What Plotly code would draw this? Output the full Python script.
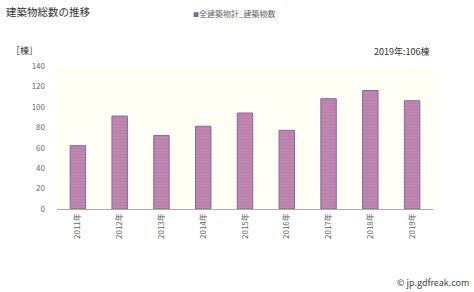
import plotly.graph_objects as go

years = ["2011年", "2012年", "2013年", "2014年", "2015年", "2016年", "2017年", "2018年", "2019年"]
counts = [62, 91, 72, 81, 94, 77, 108, 116, 106]
series_name = "全建築物計_建築物数"
title_text = "建築物総数の推移"
unit_text = "［棟］"
latest_text = "2019年:106棟"
credit_text = "© jp.gdfreak.com"

FONT = "Noto Sans CJK JP"
BAR_FILL = "#b97fae"
BAR_EDGE = "#7f6aa6"

fig = go.Figure()
fig.add_trace(go.Bar(
    x=years, y=counts, name=series_name, showlegend=False,
    marker=dict(
        color=BAR_FILL,
        line=dict(color=BAR_EDGE, width=1),
        pattern=dict(shape="-", fgcolor="#a178b4", bgcolor="#c486ab", size=3, solidity=0.4),
    ),
))

L, R, T, B = 57, 41, 66, 83
W, H = 474, 292
PW, PH = W - L - R, H - T - B


def px(x):
    return (x - L) / PW


def py(y):
    return (H - B - y) / PH


fig.update_layout(
    width=W, height=H,
    margin=dict(l=L, r=R, t=T, b=B),
    paper_bgcolor="white",
    plot_bgcolor="#fffef4",
    bargap=0.63,
    font=dict(family=FONT, color="#555555", size=8),
    xaxis=dict(
        showgrid=False, showline=True, linecolor="#aaaaaa", linewidth=1,
        ticks="", tickangle=-90, tickfont=dict(size=8, color="#666666"),
    ),
    yaxis=dict(
        range=[0, 140], dtick=20, showgrid=False, zeroline=False,
        showline=False, ticks="", tickfont=dict(size=8, color="#666666"),
        ticklabelstandoff=11,
    ),
    annotations=[
        dict(text=title_text, xref="paper", yref="paper", x=px(4), y=py(11),
             xanchor="left", yanchor="middle", showarrow=False,
             font=dict(size=10.5, color="#333333", family=FONT)),
        dict(text=f"<span style='color:{BAR_EDGE};font-size:6px'>■</span>{series_name}",
             xref="paper", yref="paper", x=px(191), y=py(13),
             xanchor="left", yanchor="middle", showarrow=False,
             font=dict(size=8, color="#666666", family=FONT)),
        dict(text=unit_text, xref="paper", yref="paper", x=px(9), y=py(50),
             xanchor="left", yanchor="middle", showarrow=False,
             font=dict(size=9, color="#333333", family=FONT)),
        dict(text=latest_text, xref="paper", yref="paper", x=px(431), y=py(51),
             xanchor="right", yanchor="middle", showarrow=False,
             font=dict(size=9, color="#333333", family=FONT)),
        dict(text=credit_text, xref="paper", yref="paper", x=px(471), y=py(282),
             xanchor="right", yanchor="middle", showarrow=False,
             font=dict(size=9, color="#444444", family=FONT)),
    ],
)

fig.write_html("out.html")
